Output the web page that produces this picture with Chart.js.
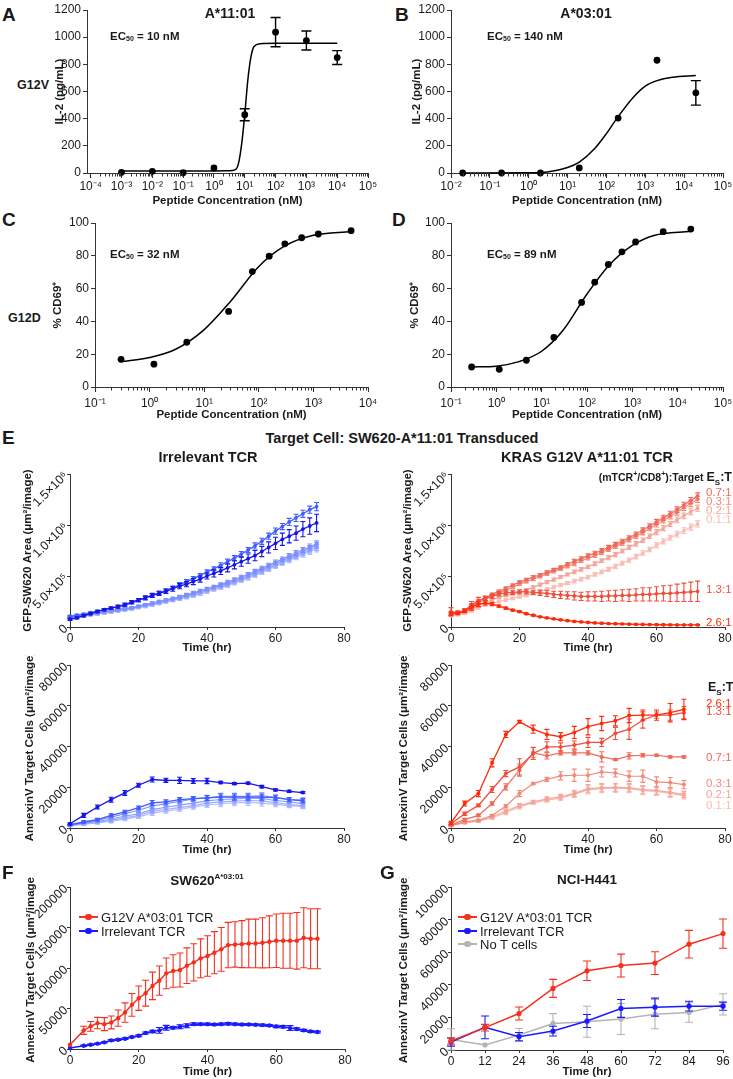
<!DOCTYPE html>
<html>
<head>
<meta charset="utf-8">
<script src="https://cdn.jsdelivr.net/npm/chart.js@4.4.0/dist/chart.umd.min.js"></script>
<style>
body{margin:0;background:#fff;}
#fig{position:relative;width:733px;height:1079px;overflow:hidden;font-family:'Liberation Sans',Arial,Helvetica,sans-serif;color:#1a1a1a;background:#fff;}
#fig canvas{position:absolute;}
.t{position:absolute;white-space:nowrap;line-height:1;}
.b{font-weight:bold;}
.c{transform:translateX(-50%);}
.letter{font-size:19px;font-weight:bold;}
.ec{font-size:11.5px;font-weight:bold;}
.ec sub{font-size:7px;vertical-align:-1px;}
.ttl{font-size:14.5px;font-weight:bold;}
.rt{font-size:11.5px;}
.lg{position:absolute;display:flex;align-items:center;height:14px;font-size:13px;white-space:nowrap;}
.mk{position:relative;width:19px;height:1.5px;margin-right:3px;}
.mk i{position:absolute;left:6px;top:-2.5px;width:6.5px;height:6.5px;border-radius:50%;background:inherit;}
</style>
</head>
<body>
<div id="fig">
  <div class="t letter" style="left:2px;top:4.5px">A</div>
  <div class="t letter" style="left:395px;top:4.5px">B</div>
  <div class="t letter" style="left:2px;top:209.5px">C</div>
  <div class="t letter" style="left:392px;top:209.5px">D</div>
  <div class="t letter" style="left:2px;top:427.5px">E</div>
  <div class="t letter" style="left:2px;top:862.5px">F</div>
  <div class="t letter" style="left:380px;top:862.5px">G</div>

  <div class="t b" style="left:17px;top:79px;font-size:12.5px">G12V</div>
  <div class="t b" style="left:8px;top:312px;font-size:12.5px">G12D</div>
  <div class="t b c" style="left:230px;top:6px;font-size:14px">A*11:01</div>
  <div class="t b c" style="left:586px;top:6px;font-size:14px">A*03:01</div>
  <div class="t ec" style="left:110px;top:30.5px">EC<sub>50</sub> = 10 nM</div>
  <div class="t ec" style="left:487px;top:30.5px">EC<sub>50</sub> = 140 nM</div>
  <div class="t ec" style="left:110px;top:248.5px">EC<sub>50</sub> = 32 nM</div>
  <div class="t ec" style="left:487px;top:248.5px">EC<sub>50</sub> = 89 nM</div>

  <div class="t ttl c" style="left:402px;top:431px">Target Cell: SW620-A*11:01 Transduced</div>
  <div class="t ttl c" style="left:208px;top:450px">Irrelevant TCR</div>
  <div class="t ttl c" style="left:587px;top:450px">KRAS G12V A*11:01 TCR</div>
  <div class="t b" style="right:1px;top:470px;font-size:10.5px">(mTCR<sup style="font-size:7px">+</sup>/CD8<sup style="font-size:7px">+</sup>):Target <span style="font-size:12.5px">E<sub style="font-size:8px">S</sub>:T</span></div>
  <div class="t b" style="left:708px;top:681px;font-size:12.5px">E<sub style="font-size:8px">S</sub>:T</div>

  <div class="t b c" style="left:207px;top:873px;font-size:13.5px">SW620<sup style="font-size:8px">A*03:01</sup></div>
  <div class="t b c" style="left:587px;top:873px;font-size:13.5px">NCI-H441</div>
</div>
<script>
// ---------- data ----------
// dose response (x in nM)
const aX = [0.001, 0.01, 0.1, 1, 10, 100, 1000, 10000];
const aY = [5, 12, 2, 37, 429, 1037, 975, 850];
const aErr = [0, 0, 0, 0, 44, 108, 70, 51];
const aCurveX = [0.001, 0.1, 1, 3, 5, 6.3, 8, 10, 12.6, 16, 20, 32, 100, 10000];
const aCurveY = [15, 15, 15, 16, 25, 73, 220, 430, 686, 858, 931, 952, 955, 955];

const bX = [0.02, 0.2, 2, 20, 200, 2000, 20000];
const bY = [0, 0, 0, 37, 404, 830, 590];
const bErr = [0, 0, 0, 0, 0, 0, 90];
const bCurveX = [0.02, 1, 3, 10, 20, 50, 100, 200, 500, 1000, 2000, 5000, 20000];
const bCurveY = [0, 2, 8, 40, 80, 180, 290, 415, 560, 640, 680, 705, 718];

const cX = [0.3, 1.2, 4.8, 28, 76, 155, 300, 610, 1230, 4900];
const cY = [16.9, 13.9, 27.3, 46.1, 70.4, 79.8, 87.3, 91, 93.3, 95.3];
const cCurveX = [0.3, 1, 3, 10, 30, 100, 300, 1000, 4900];
const cCurveY = [15.5, 18, 23, 35, 52, 73.5, 86, 92.5, 94.8];

const dX = [0.285, 1.16, 4.6, 18.6, 76, 148, 295, 590, 1180, 4800, 19500];
const dY = [12.2, 10.8, 16.3, 30.2, 51.6, 63.9, 74.7, 82.4, 88.4, 94.7, 96.3];
const dCurveX = [0.285, 1, 3, 10, 30, 100, 300, 1000, 3000, 19500];
const dCurveY = [12.2, 12.7, 15.3, 21.8, 34.7, 56.7, 74, 86.3, 92.4, 94.9];

const decadeExps = [-4, -3, -2, -1, 0, 1, 2, 3, 4, 5];
const decadeLabels = ['10⁻⁴', '10⁻³', '10⁻²', '10⁻¹', '10⁰', '10¹', '10²', '10³', '10⁴', '10⁵'];
const minorMults = [2, 3, 4, 5, 6, 7, 8, 9];
const il2Ticks = [0, 200, 400, 600, 800, 1000, 1200];
const il2Labels = ['0', '200', '400', '600', '800', '1000', '1200'];
const cd69Ticks = [0, 20, 40, 60, 80, 100];
const cd69Labels = ['0', '20', '40', '60', '80', '100'];

// time courses
const ratios = ['2.6:1', '1.3:1', '0.7:1', '0.3:1', '0.2:1', '0.1:1'];
const T2 = [0,2,4,6,8,10,12,14,16,18,20,22,24,26,28,30,32,34,36,38,40,42,44,46,48,50,52,54,56,58,60,62,64,66,68,70,72];
const T4 = [0,4,8,12,16,20,24,28,32,36,40,44,48,52,56,60,64,68];
const T12 = [0,12,24,36,48,60,72,84,96];

// GFP area, units of 10^6 um2/image
const irrGfp26 = [0.075,0.09,0.11,0.13,0.15,0.17,0.185,0.2,0.22,0.245,0.265,0.285,0.31,0.33,0.35,0.375,0.40,0.42,0.445,0.47,0.50,0.525,0.55,0.58,0.61,0.64,0.67,0.70,0.74,0.78,0.82,0.86,0.89,0.92,0.96,0.99,1.02];
const irrGfp13 = [0.105,0.115,0.125,0.14,0.155,0.17,0.185,0.2,0.215,0.235,0.26,0.285,0.31,0.335,0.36,0.385,0.415,0.445,0.475,0.505,0.54,0.57,0.605,0.64,0.675,0.715,0.755,0.795,0.84,0.89,0.94,0.985,1.03,1.07,1.11,1.15,1.18];
const irrGfp07 = [0.10,0.11,0.12,0.13,0.14,0.15,0.16,0.17,0.18,0.19,0.205,0.22,0.235,0.25,0.265,0.28,0.295,0.315,0.335,0.355,0.375,0.395,0.415,0.44,0.465,0.49,0.515,0.545,0.575,0.605,0.635,0.665,0.695,0.725,0.755,0.785,0.815];
const irrGfp03 = [0.095,0.105,0.115,0.125,0.135,0.145,0.155,0.165,0.175,0.185,0.2,0.215,0.23,0.245,0.26,0.27,0.285,0.305,0.325,0.345,0.365,0.385,0.405,0.425,0.45,0.475,0.5,0.53,0.56,0.59,0.62,0.65,0.68,0.71,0.74,0.77,0.80];
const irrGfp02 = [0.09,0.1,0.11,0.12,0.13,0.14,0.15,0.16,0.17,0.18,0.195,0.21,0.22,0.235,0.25,0.265,0.28,0.295,0.315,0.335,0.355,0.375,0.395,0.415,0.44,0.465,0.49,0.515,0.545,0.575,0.605,0.635,0.665,0.695,0.725,0.755,0.78];
const irrGfp01 = [0.085,0.095,0.105,0.115,0.125,0.135,0.145,0.155,0.165,0.175,0.19,0.2,0.215,0.23,0.245,0.26,0.275,0.29,0.305,0.325,0.345,0.365,0.385,0.405,0.43,0.455,0.48,0.505,0.535,0.565,0.595,0.625,0.655,0.685,0.71,0.74,0.765];
const irrGfp26Err = [0.01,0.01,0.01,0.01,0.01,0.01,0.01,0.015,0.015,0.015,0.015,0.02,0.02,0.02,0.02,0.025,0.025,0.025,0.03,0.03,0.03,0.035,0.035,0.04,0.04,0.045,0.045,0.05,0.05,0.055,0.06,0.06,0.065,0.07,0.075,0.08,0.085];
const irrGfp13Err = [0.01,0.01,0.01,0.01,0.01,0.01,0.01,0.01,0.01,0.01,0.015,0.015,0.015,0.015,0.015,0.015,0.02,0.02,0.02,0.02,0.02,0.02,0.025,0.025,0.025,0.025,0.025,0.03,0.03,0.03,0.03,0.03,0.035,0.035,0.035,0.035,0.04];
const irrGfpLightErr = [0.01,0.01,0.01,0.01,0.01,0.01,0.01,0.01,0.01,0.01,0.01,0.01,0.012,0.012,0.012,0.012,0.015,0.015,0.015,0.015,0.015,0.015,0.018,0.018,0.018,0.018,0.02,0.02,0.02,0.02,0.022,0.022,0.025,0.025,0.025,0.028,0.03];

const kGfp26 = [0.13,0.135,0.155,0.195,0.225,0.235,0.225,0.205,0.185,0.165,0.15,0.13,0.115,0.10,0.09,0.08,0.07,0.062,0.055,0.05,0.045,0.04,0.037,0.034,0.032,0.03,0.028,0.026,0.025,0.024,0.023,0.022,0.021,0.02,0.02,0.02,0.02];
const kGfp13 = [0.15,0.14,0.16,0.22,0.26,0.28,0.30,0.325,0.335,0.34,0.345,0.345,0.34,0.335,0.33,0.32,0.315,0.31,0.305,0.30,0.30,0.30,0.30,0.305,0.305,0.31,0.31,0.315,0.32,0.32,0.325,0.33,0.33,0.335,0.34,0.345,0.35];
const kGfp07 = [0.13,0.14,0.16,0.2,0.25,0.29,0.32,0.35,0.38,0.41,0.44,0.465,0.49,0.51,0.535,0.56,0.585,0.615,0.645,0.67,0.70,0.725,0.75,0.78,0.81,0.84,0.875,0.91,0.95,0.99,1.03,1.07,1.11,1.15,1.195,1.24,1.285];
const kGfp03 = [0.13,0.14,0.155,0.19,0.235,0.275,0.305,0.335,0.36,0.39,0.42,0.445,0.47,0.495,0.52,0.545,0.57,0.595,0.62,0.65,0.675,0.70,0.73,0.76,0.79,0.82,0.855,0.89,0.925,0.965,1.005,1.045,1.085,1.125,1.17,1.21,1.25];
const kGfp02 = [0.12,0.13,0.145,0.175,0.21,0.24,0.265,0.29,0.31,0.325,0.34,0.365,0.39,0.415,0.44,0.465,0.49,0.515,0.54,0.565,0.59,0.62,0.65,0.68,0.71,0.745,0.78,0.815,0.85,0.89,0.93,0.97,1.01,1.05,1.09,1.13,1.165];
const kGfp01 = [0.11,0.12,0.135,0.16,0.19,0.215,0.235,0.25,0.265,0.28,0.295,0.31,0.33,0.35,0.37,0.39,0.41,0.43,0.45,0.47,0.49,0.515,0.54,0.565,0.595,0.625,0.655,0.69,0.725,0.76,0.80,0.84,0.875,0.91,0.945,0.98,1.01];
const kGfp26Err = [0.02,0.01,0.01,0.03,0.025,0.02,0.015,0.01,0.01,0.008,0.008,0.006,0.006,0.005,0.005,0.005,0.005,0.005,0.005,0.005,0.005,0.005,0.005,0.005,0.005,0.005,0.005,0.005,0.005,0.005,0.005,0.005,0.005,0.005,0.005,0.005,0.005];
const kGfp13Err = [0.04,0.02,0.02,0.03,0.03,0.02,0.02,0.02,0.02,0.02,0.02,0.02,0.02,0.025,0.03,0.03,0.035,0.035,0.04,0.04,0.045,0.045,0.05,0.05,0.055,0.055,0.06,0.06,0.065,0.065,0.07,0.075,0.08,0.085,0.09,0.095,0.1];
const kGfpErr = [0.01,0.01,0.01,0.015,0.015,0.012,0.012,0.012,0.012,0.012,0.012,0.012,0.015,0.015,0.015,0.015,0.015,0.015,0.018,0.018,0.018,0.018,0.018,0.02,0.02,0.02,0.02,0.022,0.022,0.022,0.025,0.025,0.025,0.028,0.028,0.03,0.03];
const gfpTicks = [0, 0.5, 1, 1.5];
const gfpLabels = ['0', '5.0×10⁵', '1.0×10⁶', '1.5×10⁶'];

// AnnexinV area, um2/image
const irrAnx26 = [2100,6200,10300,13900,17200,21000,23800,23400,23400,23100,23100,22300,21800,22000,20300,18700,18000,17400];
const irrAnx13 = [1600,2950,4100,6200,7900,10000,12300,12800,13900,14400,14750,15200,15200,15200,15200,14900,13900,13300];
const irrAnx07 = [1500,2800,3700,5300,7000,8700,10800,12000,13000,14300,14800,15500,15500,15500,15800,15000,14000,13800];
const irrAnx03 = [1400,2400,3200,4300,5800,7000,9000,10200,11200,12200,13300,14000,14300,14600,14500,13500,12800,12000];
const irrAnx02 = [1300,2000,2800,3700,5000,6200,8200,9200,10000,11000,12200,12800,13200,13500,13300,12500,11500,11000];
const irrAnx01 = [1200,1800,2500,3300,4400,5500,7300,8300,9200,10200,11300,11900,12400,12600,12200,11600,11000,10500];
const irrAnx26Err = [500,1000,1000,1200,1200,1000,1200,1000,1500,1200,1300,600,500,500,600,500,500,500];
const irrAnxErr = [400,600,600,800,800,800,1200,1000,1000,1000,1200,1500,1500,1500,1500,1200,1000,1000];

const kAnx26 = [2500,12000,16900,32000,45900,52100,48500,45900,44800,46900,49700,51300,52600,55200,55400,55400,56600,58200];
const kAnx13 = [2100,7000,11100,18900,26700,30000,36600,39800,39800,40700,42000,42000,46400,48500,53000,55400,55400,56600];
const kAnx07 = [1600,4100,6200,12000,20200,28400,37000,35400,36900,36900,36900,34900,33600,35400,35700,35700,34900,34900];
const kAnx03 = [1300,3000,3800,6100,10700,16900,21800,23900,25600,25900,25900,27500,27000,25400,25400,22600,22300,21300];
const kAnx02 = [1200,2700,3500,5500,8200,11000,12800,14300,15300,17000,19300,19800,20000,19800,18800,18500,17500,16500];
const kAnx01 = [1100,2500,3300,5000,7500,10300,12300,13700,14700,16500,18700,19300,19500,19300,18300,18000,17000,15800];
const kAnx26Err = [800,1200,1500,2000,1500,700,2000,2500,2000,3000,4000,3500,2500,3500,2500,2500,4500,5000];
const kAnx13Err = [600,800,600,1500,1500,4000,3000,2500,2000,2000,2500,2000,3000,5000,4000,1500,2500,3000];
const kAnx07Err = [500,600,600,800,1500,3000,2500,1500,1000,1000,1000,2500,500,1500,800,500,500,500];
const kAnx03Err = [500,500,500,500,800,1500,500,1000,2000,3000,3000,2500,2000,2500,3000,2500,2500,2000];
const kAnxLoErr = [400,500,500,800,1000,1000,800,1000,1200,1500,2000,2000,2000,2000,2000,2000,2000,1500];
const anxTicks = [0, 20000, 40000, 60000, 80000];
const anxLabels = ['0', '20000', '40000', '60000', '80000'];
const eTimeTicks = [0, 20, 40, 60, 80];
const eTimeLabels = ['0', '20', '40', '60', '80'];

// F: SW620 A*03:01
const fRed = [5300,null,23000,28000,32000,30700,32800,38100,45000,54500,62700,68900,77900,84400,93400,96300,97500,102900,107000,111900,114800,118900,123000,128300,129100,129500,130300,130300,131100,132400,133600,133600,133600,133600,137300,136100,136100];
const fRedErr = [0,null,5000,6000,7000,8000,8000,10000,12000,14000,15000,16000,17000,18000,19000,20000,21000,22000,23000,24000,25000,26000,27000,28000,28000,29000,30000,30000,31000,32000,33000,34000,34000,35000,37000,37000,37000];
const fBlue = [1200,null,4100,5300,6600,8200,10700,11500,12700,14800,16400,19700,21700,23000,26200,26200,27500,28700,30700,30700,30700,30300,30700,31100,30700,30300,30300,29900,29500,29100,27900,27500,25800,24600,23000,21700,20900];
const fBlueErr = [0,null,800,800,800,800,1000,1000,1000,1000,1200,1200,1500,3500,3000,1500,2500,2500,1500,1200,1200,1200,1200,1500,1200,1200,1200,1200,1200,1200,1500,1500,3000,1500,1200,1200,1200];
const fTicks = [0, 50000, 100000, 150000, 200000];
const fLabels = ['0', '50000', '100000', '150000', '200000'];

// G: NCI-H441
const gRed = [5500,13700,22400,37800,48600,51800,53300,64900,71400];
const gRedErr = [2000,2000,4000,5500,6000,7000,7000,8500,9000];
const gBlue = [4900,13900,8200,11600,17800,25500,26300,26900,26900];
const gBlueErr = [2500,7000,2500,3000,4000,5500,5500,3000,2500];
const gGray = [6500,3100,9200,16300,17300,19000,22000,23000,28000];
const gGrayErr = [6500,0,4000,6000,9500,9500,9000,6000,6500];
const gTicks = [0, 20000, 40000, 60000, 80000, 100000];
const gLabels = ['0', '20000', '40000', '60000', '80000', '100000'];
const gTimeLabels = ['0', '12', '24', '36', '48', '60', '72', '84', '96'];

const fgLegend = ['G12V A*03:01 TCR', 'Irrelevant TCR', 'No T cells'];

// ---------- style ----------
const RED = '#f5301e', BLUE = '#1a1aff', GRAY = '#b4b4b4';
const blues = ['#1515e6', '#3f5cff', '#7b8eff', '#8c9dff', '#9eadff', '#b2bdff'];
const reds = ['#ff2a0a', '#f04e3c', '#f06a5a', '#f28a7c', '#f5a599', '#f8bdb4'];
const AXC = '#333';
const TXT = '#1a1a1a';
Chart.defaults.font.family = "'Liberation Sans', Arial, Helvetica, sans-serif";
Chart.defaults.color = TXT;

const fig = document.getElementById('fig');

// error bars, plus the short minor ticks of a log x axis
const errorBars = {
  id: 'errorBars',
  afterDatasetDraw(chart, args) {
    const ds = chart.data.datasets[args.index];
    const ctx = chart.ctx, xs = chart.scales.x, ys = chart.scales.y;
    if (args.index === 0 && chart.$logX) {
      const y0 = Math.round(ys.getPixelForValue(ys.min));
      ctx.save();
      ctx.strokeStyle = '#333';
      ctx.lineWidth = 1;
      ctx.beginPath();
      decadeExps.forEach(e => {
        minorMults.forEach(m => {
          const v = m * Math.pow(10, e);
          if (v <= xs.min || v >= xs.max) return;
          const x = Math.round(xs.getPixelForValue(v)) + 0.5;
          ctx.moveTo(x, y0);
          ctx.lineTo(x, y0 + 3.5);
        });
      });
      ctx.stroke();
      ctx.restore();
    }
    if (!ds.errors) return;
    const cap = ds.capWidth || 3;
    ctx.save();
    ctx.strokeStyle = ds.borderColor;
    ctx.lineWidth = ds.errWidth || 1.2;
    ds.data.forEach((p, i) => {
      const e = ds.errors[i];
      if (p.y == null || !e) return;
      const x = xs.getPixelForValue(p.x);
      const y1 = ys.getPixelForValue(p.y + e), y2 = ys.getPixelForValue(p.y - e);
      ctx.beginPath();
      ctx.moveTo(x, y1); ctx.lineTo(x, y2);
      ctx.moveTo(x - cap, y1); ctx.lineTo(x + cap, y1);
      ctx.moveTo(x - cap, y2); ctx.lineTo(x + cap, y2);
      ctx.stroke();
    });
    ctx.restore();
  }
};

function titleOpt(text) {
  return {display: true, text: text, font: {size: 11.5, weight: 'bold'}, padding: 0, color: TXT};
}

function linearAxis(values, labels, title, opt) {
  opt = opt || {};
  return {
    type: 'linear', min: values[0], max: values[values.length - 1],
    afterBuildTicks: s => { s.ticks = values.map(v => ({value: v})); },
    border: {color: AXC, width: 1},
    grid: {drawOnChartArea: false, color: AXC, tickLength: opt.tl || 4, tickWidth: 1},
    ticks: {autoSkip: false, padding: opt.pad == null ? 2 : opt.pad, font: {size: opt.fs || 12}, color: TXT,
      minRotation: opt.rot || 0, maxRotation: opt.rot || 0,
      callback: v => labels[values.indexOf(v)]},
    title: titleOpt(title)
  };
}

function logAxis(lo, hi, pad) {
  const exps = decadeExps.filter(e => Math.pow(10, e) >= lo * 0.999 && Math.pow(10, e) <= hi * 1.001);
  return {
    type: 'logarithmic', min: lo, max: hi,
    afterBuildTicks: s => { s.ticks = exps.map(e => ({value: Math.pow(10, e), exp: e})); },
    border: {color: AXC, width: 1},
    grid: {drawOnChartArea: false, color: AXC, tickLength: 5, tickWidth: 1.1},
    ticks: {autoSkip: false, padding: pad, font: {size: 12}, color: TXT, minRotation: 0, maxRotation: 0,
      callback: (v, i) => decadeLabels[decadeExps.indexOf(exps[i])]},
    title: titleOpt('Peptide Concentration (nM)')
  };
}

function makeChart(area, yW, xH, xScale, yScale, datasets) {
  const padT = 10, padR = 14;
  const cv = document.createElement('canvas');
  const left = area.l - yW, top = area.t - padT;
  const w = area.r - left + padR, h = area.b - top + xH;
  cv.width = w; cv.height = h;
  cv.style.left = left + 'px'; cv.style.top = top + 'px';
  cv.style.width = w + 'px'; cv.style.height = h + 'px';
  fig.insertBefore(cv, fig.firstChild);
  xScale.afterFit = s => { s.height = xH; };
  yScale.afterFit = s => { s.width = yW; };
  const ch = new Chart(cv, {
    type: 'scatter',
    data: {datasets: datasets},
    options: {
      responsive: false, animation: false, events: [],
      layout: {padding: {top: padT, right: padR, left: 0, bottom: 0}, autoPadding: false},
      scales: {x: xScale, y: yScale},
      plugins: {legend: {display: false}, tooltip: {enabled: false}}
    },
    plugins: [errorBars]
  });
  if (xScale.type === 'logarithmic') {
    ch.$logX = true;
    ch.draw();
  }
  return ch;
}

function pts(xs, ys) { return xs.map((x, i) => ({x: x, y: ys[i]})); }

function dots(xs, ys, errs) {
  return {data: pts(xs, ys), errors: errs, showLine: false, pointRadius: 3.4, pointBorderWidth: 0,
    backgroundColor: '#000', borderColor: '#000', clip: false, capWidth: 5, errWidth: 1.4};
}
function curve(xs, ys) {
  return {data: pts(xs, ys), showLine: true, pointRadius: 0, borderColor: '#000', borderWidth: 1.5,
    cubicInterpolationMode: 'monotone', clip: false};
}
function series(xs, ys, errs, color, r, lw, cap) {
  return {data: pts(xs, ys), errors: errs, showLine: true, spanGaps: true, borderColor: color,
    backgroundColor: color, pointRadius: r, pointBorderWidth: 0, borderWidth: lw, clip: false,
    capWidth: cap, errWidth: 1.1};
}

// ---------- A-D ----------
makeChart({l: 87, t: 10, r: 368, b: 173}, 34, 35, logAxis(Math.pow(10, -4.12), 1e5, 1),
  linearAxis(il2Ticks, il2Labels, 'IL-2 (pg/mL)'),
  [dots(aX, aY, aErr), curve(aCurveX, aCurveY)]);
makeChart({l: 451, t: 10, r: 723, b: 173}, 41, 35, logAxis(1e-2, 1e5, 1),
  linearAxis(il2Ticks, il2Labels, 'IL-2 (pg/mL)'),
  [dots(bX, bY, bErr), curve(bCurveX, bCurveY)]);
makeChart({l: 95, t: 223, r: 368, b: 387}, 44, 35, logAxis(1e-1, 1e4, 4),
  linearAxis(cd69Ticks, cd69Labels, '% CD69⁺'),
  [dots(cX, cY, null), curve(cCurveX, cCurveY)]);
makeChart({l: 451, t: 223, r: 723, b: 387}, 43, 35, logAxis(1e-1, 1e5, 4),
  linearAxis(cd69Ticks, cd69Labels, '% CD69⁺'),
  [dots(dX, dY, null), curve(dCurveX, dCurveY)]);

// ---------- E ----------
const eX = () => linearAxis(eTimeTicks, eTimeLabels, 'Time (hr)', {tl: 3, pad: 1, fs: 12});
const gfpY = () => linearAxis(gfpTicks, gfpLabels, 'GFP-SW620 Area (μm²/image)', {tl: 3, pad: 1, fs: 12.5, rot: 45});
const anxY = () => linearAxis(anxTicks, anxLabels, 'AnnexinV Target Cells (μm²/image)', {tl: 3, pad: 1, fs: 12.5, rot: 45});

makeChart({l: 70, t: 474, r: 344, b: 627}, 49, 28, eX(), gfpY(), [
  series(T2, irrGfp26, irrGfp26Err, blues[0], 1.9, 1.3, 2.5),
  series(T2, irrGfp13, irrGfp13Err, blues[1], 1.9, 1.3, 2.5),
  series(T2, irrGfp07, irrGfpLightErr, blues[2], 1.9, 1.2, 2.5),
  series(T2, irrGfp03, irrGfpLightErr, blues[3], 1.9, 1.2, 2.5),
  series(T2, irrGfp02, irrGfpLightErr, blues[4], 1.9, 1.2, 2.5),
  series(T2, irrGfp01, irrGfpLightErr, blues[5], 1.9, 1.2, 2.5)
]);
makeChart({l: 451, t: 474, r: 725, b: 627}, 50, 28, eX(), gfpY(), [
  series(T2, kGfp26, kGfp26Err, reds[0], 1.9, 1.3, 2.5),
  series(T2, kGfp13, kGfp13Err, reds[1], 1.9, 1.3, 2.5),
  series(T2, kGfp07, kGfpErr, reds[2], 1.9, 1.2, 2.5),
  series(T2, kGfp03, kGfpErr, reds[3], 1.9, 1.2, 2.5),
  series(T2, kGfp02, kGfpErr, reds[4], 1.9, 1.2, 2.5),
  series(T2, kGfp01, kGfpErr, reds[5], 1.9, 1.2, 2.5)
]);
makeChart({l: 70, t: 665, r: 344, b: 828}, 47, 29, eX(), anxY(), [
  series(T4, irrAnx26, irrAnx26Err, blues[0], 2, 1.3, 2.5),
  series(T4, irrAnx13, irrAnxErr, blues[1], 2, 1.3, 2.5),
  series(T4, irrAnx07, irrAnxErr, blues[2], 2, 1.2, 2.5),
  series(T4, irrAnx03, irrAnxErr, blues[3], 2, 1.2, 2.5),
  series(T4, irrAnx02, irrAnxErr, blues[4], 2, 1.2, 2.5),
  series(T4, irrAnx01, irrAnxErr, blues[5], 2, 1.2, 2.5)
]);
makeChart({l: 451, t: 665, r: 725, b: 828}, 54, 29, eX(), anxY(), [
  series(T4, kAnx26, kAnx26Err, reds[0], 2, 1.3, 2.5),
  series(T4, kAnx13, kAnx13Err, reds[1], 2, 1.3, 2.5),
  series(T4, kAnx07, kAnx07Err, reds[2], 2, 1.2, 2.5),
  series(T4, kAnx03, kAnx03Err, reds[3], 2, 1.2, 2.5),
  series(T4, kAnx02, kAnxLoErr, reds[4], 2, 1.2, 2.5),
  series(T4, kAnx01, kAnxLoErr, reds[5], 2, 1.2, 2.5)
]);

// ---------- F, G ----------
makeChart({l: 70, t: 887, r: 345, b: 1049}, 46, 30, eX(),
  linearAxis(fTicks, fLabels, 'AnnexinV Target Cells (μm²/image)', {tl: 3, pad: 1, fs: 12.5, rot: 45}), [
  series(T2, fRed, fRedErr, RED, 2.2, 1.5, 3.5),
  series(T2, fBlue, fBlueErr, BLUE, 2.2, 1.5, 3.5)
]);
makeChart({l: 451, t: 887, r: 723, b: 1050}, 54, 29,
  linearAxis(T12, gTimeLabels, 'Time (hr)', {tl: 3, pad: 1, fs: 12}),
  linearAxis(gTicks, gLabels, 'AnnexinV Target Cells (μm²/image)', {tl: 3, pad: 1, fs: 12.5, rot: 45}), [
  series(T12, gRed, gRedErr, RED, 2.6, 1.5, 4),
  series(T12, gBlue, gBlueErr, BLUE, 2.6, 1.5, 4),
  series(T12, gGray, gGrayErr, GRAY, 2.6, 1.5, 4)
]);

// ---------- text labels from arrays ----------
function addText(text, x, y, color, cls) {
  const d = document.createElement('div');
  d.className = 't ' + (cls || 'rt');
  d.style.left = x + 'px'; d.style.top = y + 'px'; d.style.color = color;
  d.textContent = text;
  fig.appendChild(d);
}
// top right E panel labels (order 0.7, 0.3, 0.2, 0.1, 1.3, 2.6)
const eTopOrder = [2, 3, 4, 5, 1, 0];
const eTopY = [486.5, 495.5, 504.5, 514, 583.5, 616.5];
eTopOrder.forEach((k, i) => addText(ratios[k], 706, eTopY[i], reds[k]));
const eBotY = [697.5, 705.5, 751.5, 777.5, 788.5, 799.5];
ratios.forEach((r, k) => addText(r, 706, eBotY[k], reds[k]));

function addLegend(x, yc, text, color) {
  const d = document.createElement('div');
  d.className = 'lg';
  d.style.left = x + 'px'; d.style.top = (yc - 7) + 'px';
  const mk = document.createElement('span');
  mk.className = 'mk'; mk.style.background = color;
  mk.appendChild(document.createElement('i'));
  d.appendChild(mk);
  d.appendChild(document.createTextNode(text));
  fig.appendChild(d);
}
addLegend(79, 917, fgLegend[0], RED);
addLegend(79, 931, fgLegend[1], BLUE);
addLegend(458, 917, fgLegend[0], RED);
addLegend(458, 931, fgLegend[1], BLUE);
addLegend(458, 944, fgLegend[2], GRAY);
</script>
</body>
</html>
